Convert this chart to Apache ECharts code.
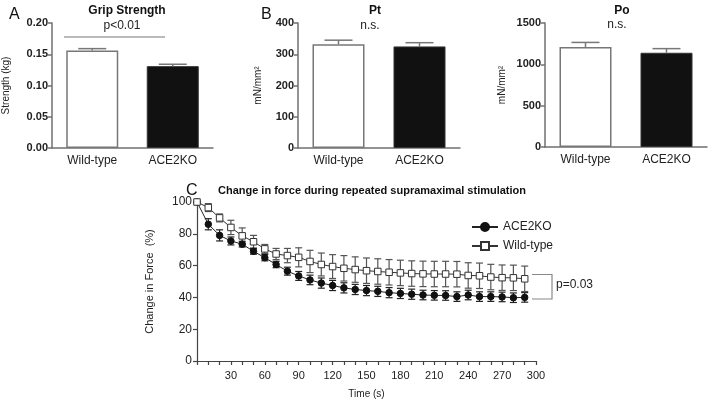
<!DOCTYPE html>
<html>
<head>
<meta charset="utf-8">
<script src="https://cdn.jsdelivr.net/npm/echarts@6/dist/echarts.min.js"></script>
<style>
html,body{margin:0;padding:0;background:#fff;}
#c{width:709px;height:400px;}
</style>
</head>
<body>
<div id="c"></div>
<script>
// ---- data ----
const groups = ['Wild-type', 'ACE2KO'];
const gripMean = [0.156, 0.131];
const gripErr = [0.003, 0.003];
const ptMean = [332, 325];
const ptErr = [13, 12];
const poMean = [1210, 1140];
const poErr = [55, 50];

const timeSec = [0,10,20,30,40,50,60,70,80,90,100,110,120,130,140,150,160,170,180,190,200,210,220,230,240,250,260,270,280,290];
const aceForce = [100,86,79,75.5,73.5,69,65,60.7,56.5,53.5,51,49,47.5,46,45,44.3,43.8,43,42.5,42,41.5,41.3,41.2,40.5,41.5,40.5,40.5,40.3,39.8,40];
const aceErr =   [0,3.5,3.5,2.5,1.8,1.8,2,2,2.5,2.8,3,3.2,3.2,3.2,3.2,3.2,3.2,3.2,3.2,3.2,3,3,3,3,3,3,3,3,3,3];
const wtForce =  [100,96.5,90,84,78.7,75,70.5,67.3,66.3,65.2,62.6,60.7,59.4,58.3,57.5,56.8,56.3,55.8,55.4,55,54.8,54.7,54.7,54.6,53.8,53.6,52.8,52.4,52.3,51.7];
const wtErr =    [0,2.5,2.5,4.5,5,4,2.8,3.5,4.5,6,7,7.2,7.5,8,8,8,8,8,8,8,8,8,8,8,8,8,8,8,8,8];
const timeTicks = [30,60,90,120,150,180,210,240,270,300];

const FONT = 'Liberation Sans, Arial, sans-serif';
const AX = '#707070';

function barYAxis(gridIndex, max, interval, name, gap, fmt) {
  return {
    gridIndex, type: 'value', min: 0, max, interval,
    name, nameLocation: 'middle', nameGap: gap,
    nameTextStyle: {fontFamily: FONT, fontSize: 10, color: '#222'},
    axisLine: {show: true, lineStyle: {color: AX, width: 1.5}},
    axisTick: {show: true, length: 4, lineStyle: {color: AX, width: 1.5}},
    axisLabel: {fontFamily: FONT, fontSize: 11, fontWeight: 'bold', color: '#222', margin: 4, formatter: fmt},
    splitLine: {show: false}
  };
}
function barXAxis(gridIndex) {
  return {
    gridIndex, type: 'category', data: groups,
    axisLine: {show: true, lineStyle: {color: AX, width: 1.5}},
    axisTick: {show: false},
    axisLabel: {fontFamily: FONT, fontSize: 12, color: '#222', margin: 7}
  };
}
function barSeries(idx, vals) {
  return {
    type: 'bar', xAxisIndex: idx, yAxisIndex: idx, barWidth: 52, z: 2,
    data: vals.map((v, i) => ({
      value: v,
      itemStyle: i === 0 ? {color: '#fff', borderColor: '#777', borderWidth: 1.5}
                         : {color: '#111', borderColor: '#333', borderWidth: 1}
    }))
  };
}
function barErrSeries(idx, vals, errs) {
  return {
    type: 'custom', xAxisIndex: idx, yAxisIndex: idx, z: 3, silent: true,
    data: vals.map((v, i) => [i, v, errs[i]]),
    renderItem: function (params, api) {
      const top = api.coord([api.value(0), api.value(1) + api.value(2)]);
      const base = api.coord([api.value(0), api.value(1)]);
      const hw = 14;
      const st = {stroke: '#777', lineWidth: 1.5};
      return {type: 'group', children: [
        {type: 'line', shape: {x1: top[0], y1: base[1], x2: top[0], y2: top[1]}, style: st},
        {type: 'line', shape: {x1: top[0] - hw, y1: top[1], x2: top[0] + hw, y2: top[1]}, style: st}
      ]};
    }
  };
}
function lineErrSeries(xs, vals, errs, color) {
  return {
    type: 'custom', xAxisIndex: 3, yAxisIndex: 3, z: 1, silent: true,
    data: xs.map((t, i) => [t, vals[i], errs[i]]),
    renderItem: function (params, api) {
      const t = api.value(0), v = api.value(1), e = api.value(2);
      if (!e) return null;
      const hi = api.coord([t, v + e]);
      const lo = api.coord([t, v - e]);
      const hw = 3.5;
      const st = {stroke: color, lineWidth: 1.2};
      return {type: 'group', children: [
        {type: 'line', shape: {x1: hi[0], y1: hi[1], x2: lo[0], y2: lo[1]}, style: st},
        {type: 'line', shape: {x1: hi[0] - hw, y1: hi[1], x2: hi[0] + hw, y2: hi[1]}, style: st},
        {type: 'line', shape: {x1: lo[0] - hw, y1: lo[1], x2: lo[0] + hw, y2: lo[1]}, style: st}
      ]};
    }
  };
}

const chart = echarts.init(document.getElementById('c'), null, {renderer: 'canvas'});
const option = {
  animation: false,
  backgroundColor: '#fff',
  textStyle: {fontFamily: FONT},
  title: [
    {text: 'Grip Strength', left: 122, top: 0, textAlign: 'center', textStyle: {fontFamily: FONT, fontSize: 12, fontWeight: 'bold', color: '#111'}},
    {text: 'Pt', left: 370, top: 0, textAlign: 'center', textStyle: {fontFamily: FONT, fontSize: 12, fontWeight: 'bold', color: '#111'}},
    {text: 'Po', left: 617, top: 0, textAlign: 'center', textStyle: {fontFamily: FONT, fontSize: 12, fontWeight: 'bold', color: '#111'}},
    {text: 'Change in force during repeated supramaximal stimulation', left: 367, top: 180, textAlign: 'center', textStyle: {fontFamily: FONT, fontSize: 11, fontWeight: 'bold', color: '#111'}},
    {text: 'A', left: 4, top: 2, textStyle: {fontFamily: FONT, fontSize: 16, fontWeight: 'normal', color: '#111'}},
    {text: 'B', left: 256, top: 2, textStyle: {fontFamily: FONT, fontSize: 16, fontWeight: 'normal', color: '#111'}},
    {text: 'C', left: 181, top: 178, textStyle: {fontFamily: FONT, fontSize: 16, fontWeight: 'normal', color: '#111'}}
  ],
  grid: [
    {left: 51, top: 23, width: 162, height: 125},
    {left: 298, top: 23, width: 162, height: 125},
    {left: 545, top: 23, width: 162, height: 124},
    {left: 197, top: 202, width: 339, height: 161}
  ],
  xAxis: [
    barXAxis(0), barXAxis(1), barXAxis(2),
    {
      gridIndex: 3, type: 'value', min: 0, max: 300, interval: 10,
      name: 'Time (s)', nameLocation: 'middle', nameGap: 28,
      nameTextStyle: {fontFamily: FONT, fontSize: 10, color: '#222'},
      axisLine: {show: true, lineStyle: {color: '#444', width: 1.2}},
      axisTick: {show: true, length: 4, lineStyle: {color: '#444', width: 1.2}},
      axisLabel: {fontFamily: FONT, fontSize: 11, color: '#222', margin: 9,
        formatter: v => (timeTicks.indexOf(v) >= 0 ? String(v) : '')},
      splitLine: {show: false}
    }
  ],
  yAxis: [
    barYAxis(0, 0.2, 0.05, 'Strength (kg)', 41, v => v.toFixed(2)),
    barYAxis(1, 400, 100, 'mN/mm\u00b2', 35, v => String(v)),
    barYAxis(2, 1500, 500, 'mN/mm\u00b2', 38, v => String(v)),
    {
      gridIndex: 3, type: 'value', min: 0, max: 100, interval: 20,
      name: 'Change in Force  (%)', nameLocation: 'middle', nameGap: 42,
      nameTextStyle: {fontFamily: FONT, fontSize: 11, color: '#222'},
      axisLine: {show: true, lineStyle: {color: '#444', width: 1.2}},
      axisTick: {show: true, length: 4, lineStyle: {color: '#444', width: 1.2}},
      axisLabel: {fontFamily: FONT, fontSize: 12, color: '#222', margin: 5},
      splitLine: {show: false}
    }
  ],
  legend: {
    orient: 'vertical', left: 466, top: 216, itemGap: 7, itemWidth: 26, itemHeight: 10,
    data: ['ACE2KO', 'Wild-type'],
    textStyle: {fontFamily: FONT, fontSize: 12, color: '#222'}
  },
  series: [
    barSeries(0, gripMean), barErrSeries(0, gripMean, gripErr),
    barSeries(1, ptMean), barErrSeries(1, ptMean, ptErr),
    barSeries(2, poMean), barErrSeries(2, poMean, poErr),
    lineErrSeries(timeSec, wtForce, wtErr, '#555'),
    lineErrSeries(timeSec, aceForce, aceErr, '#222'),
    {
      name: 'ACE2KO', type: 'line', xAxisIndex: 3, yAxisIndex: 3, z: 3,
      data: timeSec.map((t, i) => [t, aceForce[i]]),
      symbol: 'circle', symbolSize: 6.5,
      lineStyle: {color: '#222', width: 1},
      itemStyle: {color: '#111', borderColor: '#111', borderWidth: 1}
    },
    {
      name: 'Wild-type', type: 'line', xAxisIndex: 3, yAxisIndex: 3, z: 4,
      data: timeSec.map((t, i) => [t, wtForce[i]]),
      symbol: 'rect', symbolSize: 6.5,
      lineStyle: {color: '#333', width: 1},
      itemStyle: {color: '#fff', borderColor: '#333', borderWidth: 1}
    }
  ],
  graphic: [
    {type: 'line', shape: {x1: 64, y1: 37, x2: 165, y2: 37}, style: {stroke: '#777', lineWidth: 1.2}},
    {type: 'text', style: {text: 'p<0.01', x: 122, y: 26, align: 'center', verticalAlign: 'middle', font: '12px ' + FONT, fill: '#222'}},
    {type: 'text', style: {text: 'n.s.', x: 370, y: 26, align: 'center', verticalAlign: 'middle', font: '12px ' + FONT, fill: '#222'}},
    {type: 'text', style: {text: 'n.s.', x: 617, y: 25, align: 'center', verticalAlign: 'middle', font: '12px ' + FONT, fill: '#222'}},
    {type: 'polyline', shape: {points: [[532, 274.5], [552, 274.5], [552, 299], [532, 299]]}, style: {stroke: '#888', lineWidth: 1.2, fill: null}},
    {type: 'text', style: {text: 'p=0.03', x: 556, y: 285, align: 'left', verticalAlign: 'middle', font: '12px ' + FONT, fill: '#222'}}
  ]
};
chart.setOption(option);
</script>
</body>
</html>
